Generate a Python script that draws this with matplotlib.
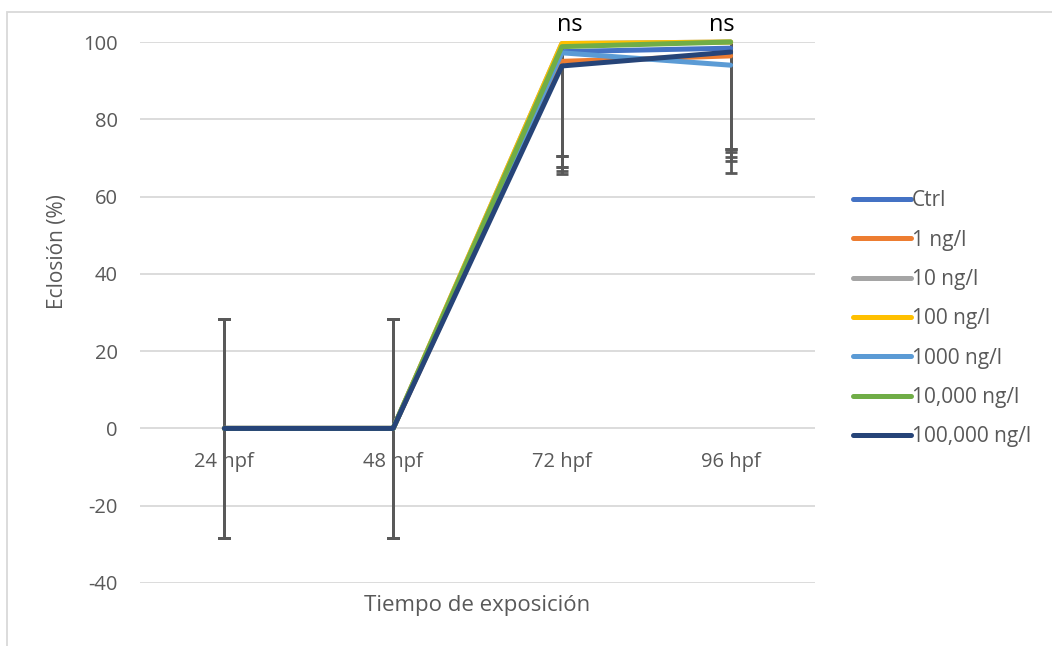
import matplotlib.pyplot as plt
from matplotlib.patches import Rectangle
import numpy as np

plt.rcParams['font.family'] = ['Open Sans', 'DejaVu Sans']
plt.rcParams['axes.unicode_minus'] = False

categories = ['24 hpf', '48 hpf', '72 hpf', '96 hpf']
series_names = ['Ctrl', '1 ng/l', '10 ng/l', '100 ng/l', '1000 ng/l', '10,000 ng/l', '100,000 ng/l']
colors = ['#4472C4', '#ED7D31', '#A5A5A5', '#FFC000', '#5B9BD5', '#70AD47', '#264478']

# hatching percentage per group
ctrl = [0, 0, 97.5, 98.4]
ng1 = [0, 0, 95.0, 96.4]
ng10 = [0, 0, 99.6, 100]
ng100 = [0, 0, 99.6, 100]
ng1000 = [0, 0, 97.2, 94.0]
ng10000 = [0, 0, 98.8, 100]
ng100000 = [0, 0, 93.8, 97.4]

# standard deviations
err_ctrl = [28.3, 28.3, 29.8, 26.8]
err_ng1 = [28.3, 28.3, 28.3, 27.2]
err_ng10 = [28.3, 28.3, 29.1, 27.6]
err_ng100 = [28.3, 28.3, 29.1, 27.6]
err_ng1000 = [28.3, 28.3, 29.5, 27.8]
err_ng10000 = [28.3, 28.3, 28.3, 27.6]
err_ng100000 = [28.3, 28.3, 28.0, 27.1]

values = [ctrl, ng1, ng10, ng100, ng1000, ng10000, ng100000]
errors = [err_ctrl, err_ng1, err_ng10, err_ng100, err_ng1000, err_ng10000, err_ng100000]

fig = plt.figure(figsize=(10.52, 6.46), dpi=100)
ax = fig.add_axes([140 / 1052, 1 - 583 / 646, 675 / 1052, 541 / 646])

x = np.arange(len(categories)) + 0.5
for name, col, v, e in zip(series_names, colors, values, errors):
    ax.errorbar(x, v, yerr=e, fmt='none', ecolor='#595959', elinewidth=2.0,
                capsize=4.3, capthick=2.0, zorder=2)
for name, col, v in zip(series_names, colors, values):
    ax.plot(x, v, color=col, lw=3.6, label=name, zorder=3,
            solid_capstyle='round', clip_on=False)

ax.set_xlim(0, 4)
ax.set_ylim(-40, 100)
ax.set_yticks(np.arange(-40, 101, 20))
ax.yaxis.grid(True, color='#D9D9D9', lw=1.3)
ax.set_axisbelow(True)
for s in ax.spines.values():
    s.set_visible(False)
ax.tick_params(axis='y', length=0, pad=16, labelsize=14.5, labelcolor='#595959')
ax.set_xticks([])

# category labels sit just under the zero line
for xi, lab in zip(x, categories):
    ax.annotate(lab, (xi, 0), xytext=(0, -24), textcoords='offset points',
                ha='center', va='center', fontsize=14.5, color='#595959')

ax.annotate('ns', (x[2], 100), xytext=(6, 12), textcoords='offset points',
            ha='center', va='center', fontsize=17, color='black')
ax.annotate('ns', (x[3], 100), xytext=(-6, 12), textcoords='offset points',
            ha='center', va='center', fontsize=17, color='black')

ax.text(0.5, -0.041, 'Tiempo de exposición', transform=ax.transAxes,
        ha='center', va='center', fontsize=16, color='#595959')
fig.text(58 / 1052, 1 - 252 / 646, 'Eclosión (%)', rotation=90,
         ha='center', va='center', fontsize=15, color='#595959')

leg = fig.legend(loc='upper left', bbox_to_anchor=(845 / 1052, 1 - 182 / 646),
                 frameon=False, fontsize=15, handlelength=2.75,
                 handletextpad=0.05, labelspacing=0.88, borderaxespad=0)
for t in leg.get_texts():
    t.set_color('#595959')

fig.patches.append(Rectangle((7 / 1052, -0.1), 1.2, 1.1 - 12 / 646,
                             transform=fig.transFigure, fill=False,
                             edgecolor='#D9D9D9', lw=1.3))

fig.savefig('out.png', dpi=100)
